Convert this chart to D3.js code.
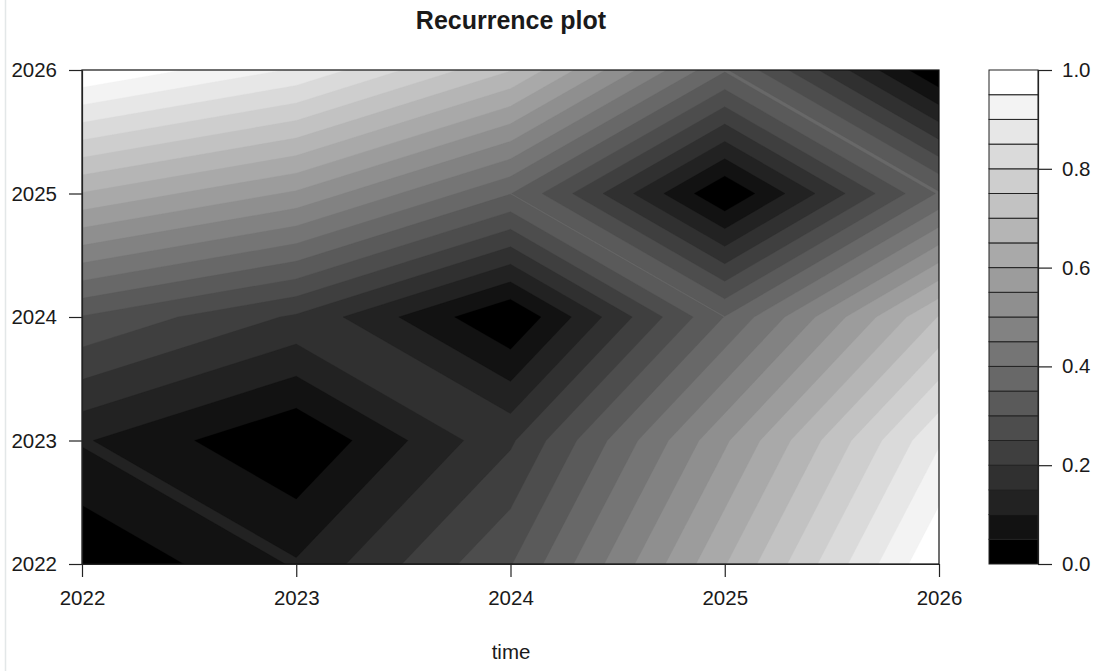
<!DOCTYPE html>
<html>
<head>
<meta charset="utf-8">
<script src="https://cdn.jsdelivr.net/npm/d3@7"></script>
<style>
html,body{margin:0;padding:0;background:#fff;}
svg{display:block;}
text{font-family:"Liberation Sans",Arial,sans-serif;fill:#1a1a1a;}
</style>
</head>
<body>
<svg id="chart" width="1099" height="671"></svg>
<script>
// Data
const years = [2022, 2023, 2024, 2025, 2026];
const row2022 = [0.0000, 0.1055, 0.297, 0.647, 1.000];
const row2023 = [0.1055, 0.0000, 0.192, 0.542, 0.894];
const row2024 = [0.297, 0.192, 0.000, 0.352, 0.703];
const row2025 = [0.647, 0.542, 0.352, 0.000, 0.356];
const row2026 = [1.000, 0.894, 0.703, 0.356, 0.000];
const levels = [0,0.05,0.1,0.15,0.2,0.25,0.3,0.35,0.4,0.45,0.5,0.55,0.6,0.65,0.7,0.75,0.8,0.85,0.9,0.95];
const barTicks = [0,0.2,0.4,0.6,0.8,1];
const titleText = "Recurrence plot";
const xLabel = "time";

const svg = d3.select("#chart");
const W = 1099, H = 671;
const plot = {l:82, r:939, t:70, b:564};
const bar = {l:989, r:1038};
const step = levels[1]-levels[0];

svg.append("rect").attr("x",0).attr("y",0).attr("width",W).attr("height",H).attr("fill","#fff");
// faint window edge seen on the left of the reference
svg.append("line").attr("x1",5.5).attr("x2",5.5).attr("y1",0).attr("y2",H)
  .attr("stroke","#e3e7e8").attr("stroke-width",1.5);

const x = d3.scaleLinear().domain([2022,2026]).range([plot.l,plot.r]);
const y = d3.scaleLinear().domain([2022,2026]).range([plot.b,plot.t]);
const z = d3.scaleLinear().domain([0,1]).range([plot.b,plot.t]);
const grey = d3.scalePow().exponent(0.9).domain([0,levels.length-1]).range([0,255]);
const color = i => { const g = Math.round(grey(i)); return `rgb(${g},${g},${g})`; };

svg.append("defs").append("clipPath").attr("id","plotClip").append("rect")
  .attr("x",plot.l).attr("y",plot.t).attr("width",plot.r-plot.l).attr("height",plot.b-plot.t);

// d3.contours isolates the high corners of saddle cells; the reference joins them,
// so the field is traced negated: each path is the area at or below a band's upper limit.
const rows = [row2022,row2023,row2024,row2025,row2026];
const flat = rows.flat().map(v => -v);
const bands = levels.map((d,i)=>i).reverse();
const contours = d3.contours().size([years.length,years.length])
  .thresholds(bands.map(i => -(levels[i]+step)))(flat);
const path = d3.geoPath(d3.geoTransform({
  point(px,py){ this.stream.point(x(years[0]+px-0.5), y(years[0]+py-0.5)); }
}));

svg.append("g").attr("clip-path","url(#plotClip)")
  .selectAll("path").data(contours).join("path")
  .attr("d",path)
  .attr("fill",(d,k)=>color(bands[k]))
  .attr("stroke",(d,k)=>color(bands[k]))
  .attr("stroke-width",0.3);

svg.append("rect").attr("x",plot.l).attr("y",plot.t)
  .attr("width",plot.r-plot.l).attr("height",plot.b-plot.t)
  .attr("fill","none").attr("stroke","#111").attr("stroke-width",1.2);

function styleAxis(g){
  g.selectAll("line").attr("stroke","#222").attr("stroke-width",1.2);
  g.selectAll("path").attr("stroke","#222").attr("stroke-width",1.2);
  g.selectAll("text").attr("font-size",20.5).attr("fill","#1a1a1a");
}

svg.append("g").attr("transform",`translate(0,${plot.b})`)
  .call(d3.axisBottom(x).tickValues(years).tickFormat(d3.format("d")).tickSizeInner(13).tickSizeOuter(0).tickPadding(13))
  .call(styleAxis);
svg.append("g").attr("transform",`translate(${plot.l},0)`)
  .call(d3.axisLeft(y).tickValues(years).tickFormat(d3.format("d")).tickSizeInner(13).tickSizeOuter(0).tickPadding(12))
  .call(styleAxis);

// colour key
svg.append("g").selectAll("rect").data(levels).join("rect")
  .attr("x",bar.l).attr("width",bar.r-bar.l)
  .attr("y",d=>z(d+step))
  .attr("height",d=>z(d)-z(d+step))
  .attr("fill",(d,i)=>color(i))
  .attr("stroke","#222").attr("stroke-width",1);

svg.append("g").attr("transform",`translate(${bar.r},0)`)
  .call(d3.axisRight(z).tickValues(barTicks).tickFormat(d3.format(".1f")).tickSizeInner(14).tickSizeOuter(0).tickPadding(10))
  .call(styleAxis);

svg.append("text").attr("x",511).attr("y",29).attr("text-anchor","middle")
  .attr("font-size",25).attr("font-weight","bold").attr("fill","#111").text(titleText);
svg.append("text").attr("x",511).attr("y",659).attr("text-anchor","middle")
  .attr("font-size",20.5).text(xLabel);
</script>
</body>
</html>
